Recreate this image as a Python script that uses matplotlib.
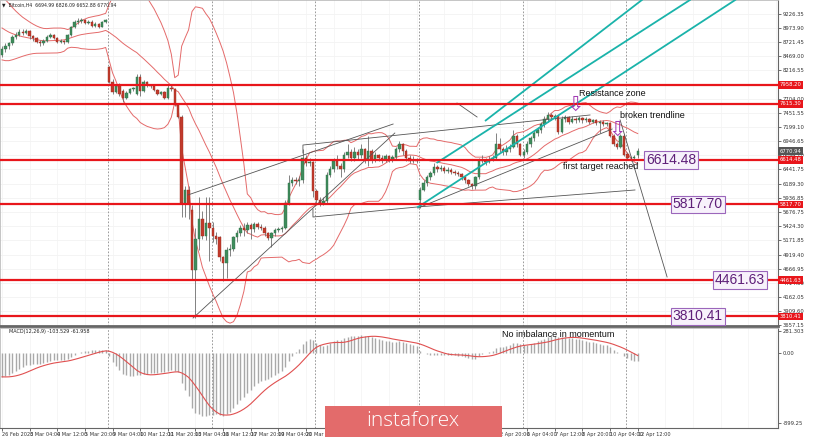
import numpy as np
import pandas as pd
import matplotlib
matplotlib.use("Agg")
import matplotlib.pyplot as plt
import matplotlib.transforms as mtransforms
from matplotlib.patches import Rectangle

# closes before the first visible bar (only used to warm up the indicators)
prior_closes = [10400, 10350, 10300, 10250, 10200, 10150, 10100, 10050, 10000, 9950, 9900, 9850,
                9800, 9750, 9700, 9650, 9600, 9550, 9500, 9450, 9400, 9350, 9300, 9250, 9200, 9150,
                9100, 9050, 9000, 8950, 8900, 8850, 8800, 8750, 8700, 8650, 8580, 8500]

# Bitcoin H4 bars, one week per line
opens = [
    8500, 8600, 8650, 8700, 8820, 8850, 8900, 8880, 8920, 8830, 8790, 8730, 8700, 8740, 8820, 8850, 8800, 8730, 8740, 8720, 8850, 9000, 9080, 9100, 9120, 9060, 9090, 9020, 9040, 9000, 9080,
    8278, 8010, 7830, 7950, 7850, 7720, 7820, 7880, 7800, 8100, 7850, 8000, 7950, 7930, 7860, 7800, 7830, 7720, 7900, 7880, 7600, 7380, 5850, 6080, 5720, 4640, 5200, 5550, 5250, 5480,
    5400, 5250, 5230, 4870, 4760, 5000, 5020, 5230, 5300, 5400, 5350, 5450, 5380, 5470, 5420, 5400, 5300, 5210, 5300, 5350, 5380, 5400, 5850, 6200, 6250, 6230, 6250, 6650, 6550, 6580,
    6050, 5900, 5850, 5880, 6350, 6450, 6600, 6500, 6450, 6700, 6750, 6650, 6750, 6700, 6800, 6620, 6780, 6620, 6700, 6650, 6620, 6680, 6630, 6660, 6800, 6900, 6780, 6650, 6600, 6620,
    5900, 6080, 6200, 6300, 6380, 6480, 6450, 6470, 6420, 6440, 6400, 6380, 6360, 6300, 6250, 6180, 6140, 6300, 6600, 6620, 6580, 6620, 6650, 6900, 6800, 6750, 6800, 6850, 7050, 6900,
    6700, 6750, 6900, 7000, 7100, 7150, 7250, 7350, 7420, 7380, 7400, 7120, 7350, 7380, 7300, 7350, 7330, 7360, 7320, 7340, 7300, 7320, 7280, 7300, 7260, 7280, 7050, 6900, 6850, 7050,
    6720, 6650, 6640, 6694.99]
highs = [
    8650, 8700, 8720, 8850, 8900, 8950, 8960, 8960, 8940, 8850, 8820, 8760, 8770, 8850, 8880, 8870, 8820, 8770, 8760, 8870, 9020, 9120, 9150, 9160, 9140, 9120, 9110, 9080, 9070, 9100, 9140,
    8300, 8060, 7980, 7990, 7880, 7850, 7900, 7920, 8150, 8160, 8050, 8030, 7980, 7950, 7880, 7850, 7850, 7960, 7960, 7900, 7620, 7420, 6150, 6150, 5800, 5400, 5950, 5700, 5950, 5950,
    5500, 5320, 5250, 4900, 5050, 5100, 5250, 5350, 5450, 5480, 5500, 5480, 5500, 5500, 5470, 5430, 5320, 5330, 5400, 5420, 5430, 5900, 6350, 6300, 6300, 6320, 6800, 6700, 6650, 6600,
    6100, 5950, 5950, 6400, 6500, 6650, 6700, 6550, 6750, 6900, 6800, 6850, 6800, 6900, 6820, 7050, 6800, 6750, 6720, 6700, 6720, 6700, 6700, 6850, 6950, 6920, 6800, 6700, 6680, 6650,
    6120, 6250, 6350, 6420, 6550, 6520, 6520, 6500, 6480, 6460, 6440, 6420, 6380, 6320, 6280, 6200, 6320, 6650, 6700, 6650, 6680, 6700, 7100, 7000, 6850, 6880, 6900, 7150, 7080, 6920,
    6800, 6950, 7050, 7150, 7200, 7300, 7400, 7470, 7460, 7440, 7420, 7400, 7420, 7400, 7400, 7380, 7400, 7380, 7380, 7370, 7350, 7340, 7330, 7320, 7300, 7300, 7070, 6930, 7080, 7070,
    6760, 6680, 6700, 6826.09]
lows = [
    8450, 8550, 8600, 8680, 8780, 8830, 8850, 8860, 8780, 8750, 8700, 8650, 8680, 8720, 8800, 8780, 8700, 8700, 8690, 8700, 8830, 8980, 9050, 9070, 9040, 9040, 9000, 9000, 8980, 8990, 9060,
    7990, 7800, 7810, 7750, 7650, 7700, 7800, 7850, 7780, 7750, 7830, 7920, 7900, 7840, 7780, 7780, 7700, 7700, 7850, 7580, 7360, 5600, 5600, 5560, 4480, 3790, 5000, 5200, 5180, 4800,
    5150, 5100, 4800, 4450, 4500, 4900, 4980, 5150, 5250, 5250, 5300, 5200, 5330, 5380, 5350, 5250, 5180, 5050, 5250, 5320, 5330, 5380, 5800, 6150, 6180, 6150, 6200, 6500, 6500, 5950,
    5850, 5780, 5800, 5850, 6300, 6400, 6450, 6300, 6400, 6650, 6600, 6600, 6620, 6650, 6550, 6500, 6550, 6580, 6600, 6560, 6580, 6580, 6580, 6620, 6750, 6700, 6600, 6560, 6560, 6550,
    5760, 6050, 6150, 6250, 6350, 6400, 6420, 6380, 6380, 6360, 6340, 6320, 6260, 6200, 6140, 6100, 6100, 6280, 6550, 6530, 6550, 6600, 6620, 6750, 6700, 6700, 6760, 6820, 6850, 6680,
    6650, 6720, 6850, 6950, 7050, 7100, 7200, 7300, 7330, 7320, 7080, 7100, 7300, 7250, 7280, 7280, 7300, 7280, 7290, 7260, 7270, 7240, 7100, 7220, 7220, 7030, 6870, 6800, 6830, 6680,
    6620, 6600, 6610, 6652.88]
closes = [
    8600, 8650, 8700, 8820, 8850, 8900, 8880, 8920, 8830, 8790, 8730, 8700, 8740, 8820, 8850, 8800, 8730, 8740, 8720, 8850, 9000, 9080, 9100, 9120, 9060, 9090, 9020, 9040, 9000, 9080, 9110,
    8010, 7830, 7950, 7800, 7720, 7820, 7880, 7900, 8100, 7850, 8000, 7950, 7930, 7860, 7800, 7830, 7720, 7900, 7880, 7600, 7380, 5850, 6080, 5830, 4640, 5200, 5550, 5250, 5480, 5400,
    5250, 5200, 4870, 4760, 5000, 5020, 5230, 5300, 5400, 5350, 5450, 5380, 5470, 5420, 5400, 5300, 5210, 5300, 5350, 5380, 5400, 5850, 6200, 6250, 6230, 6260, 6650, 6550, 6580, 6050,
    5900, 5850, 5880, 6350, 6450, 6600, 6500, 6450, 6700, 6750, 6650, 6750, 6700, 6800, 6620, 6780, 6620, 6700, 6650, 6620, 6680, 6630, 6660, 6800, 6900, 6780, 6650, 6600, 6620, 6600,
    6080, 6200, 6300, 6380, 6480, 6450, 6470, 6420, 6440, 6400, 6380, 6360, 6300, 6250, 6180, 6140, 6300, 6600, 6620, 6580, 6620, 6650, 6900, 6800, 6750, 6800, 6850, 7050, 6900, 6700,
    6750, 6900, 7000, 7100, 7150, 7250, 7350, 7420, 7380, 7400, 7120, 7350, 7380, 7300, 7350, 7330, 7360, 7320, 7340, 7300, 7320, 7280, 7300, 7260, 7280, 7050, 6900, 6850, 7050, 6700,
    6650, 6640, 6660, 6770.94]

# horizontal levels drawn on the chart
levels = [7958.20, 7615.30, 6614.48, 5817.70, 4461.63, 3810.41]
# boxed target labels: (bar index, level)
targets = [(193.6, 6614.48), (201.4, 5817.70), (213.6, 4461.63), (201.4, 3810.41)]

# hand drawn lines as (bar index, price) anchors
trendlines = [
    [(53.8, 5985), (113.2, 7256)],
    [(55.3, 3782), (113.7, 7095)],
    [(87.1, 6737), (87.1, 6880), (170.2, 7418)],
    [(90.0, 5733), (90.0, 5591), (120.1, 5770), (183.2, 6075)],
    [(120.4, 5752), (176.6, 7167)],
    [(178.9, 7328), (192.5, 4517)],
    [(131.7, 7632), (137.5, 7382)],
]
channel = [
    [(120.4, 5770), (212.2, 9477)],
    [(126.0, 6568), (199.1, 9477)],
    [(140.0, 7320), (185.2, 9477)],
]

price_ticks = [9226.35, 8973.90, 8721.45, 8469.00, 8216.55, 7704.00, 7451.55, 7199.10, 6946.65,
               6694.20, 6441.75, 6189.30, 5936.85, 5676.75, 5424.30, 5171.85, 4919.40, 4666.95,
               4414.50, 4162.05, 3909.60, 3657.15]
time_labels = ["26 Feb 2020", "3 Mar 04:00", "4 Mar 12:00", "5 Mar 20:00", "9 Mar 04:00",
               "10 Mar 12:00", "11 Mar 20:00", "13 Mar 04:00", "16 Mar 12:00", "17 Mar 20:00",
               "19 Mar 04:00", "20 Mar 12:00", "23 Mar 20:00", "25 Mar 04:00", "26 Mar 12:00",
               "27 Mar 20:00", "31 Mar 04:00", "1 Apr 12:00", "2 Apr 20:00", "6 Apr 04:00",
               "7 Apr 12:00", "8 Apr 20:00", "10 Apr 04:00", "12 Apr 12:00"]
week_starts = [31, 61, 91, 121, 151, 181]

# ---- indicators: Bollinger(20, 2) and MACD(12, 26, 9) ----
allc = pd.Series(prior_closes + closes, dtype=float)
n0 = len(prior_closes)
mid = allc.rolling(20).mean()
sd = allc.rolling(20).std(ddof=0)
upper = (mid + 2 * sd).values[n0:]
lower = (mid - 2 * sd).values[n0:]
mid = mid.values[n0:]
macd = allc.ewm(span=12, adjust=False).mean() - allc.ewm(span=26, adjust=False).mean()
signal = macd.rolling(9).mean().values[n0:]
macd = macd.values[n0:]

o, h, l, c = map(np.array, (opens, highs, lows, closes))
x = np.arange(len(c))
up = c >= o

fig = plt.figure(figsize=(8.25, 4.37), dpi=100)
ax = fig.add_axes([0, 111 / 437, 778 / 825, 326 / 437])
axm = fig.add_axes([0, 9 / 437, 778 / 825, 100 / 437])
xlim = (-0.58, 224.6)

for a in (ax, axm):
    a.set_xlim(*xlim)
    for s in ("left", "top"):
        a.spines[s].set_color("#bbbbbb")
        a.spines[s].set_linewidth(0.6)
    a.spines["right"].set_color("#666666")
    a.spines["right"].set_linewidth(0.8)
    a.spines["bottom"].set_color("#666666")
    for ws in week_starts:
        a.axvline(ws - 0.3, color="#8a8a8a", lw=0.6, ls=(0, (2, 2)), zorder=1)
    a.yaxis.tick_right()
    a.tick_params(axis="y", labelsize=3.8, length=2, width=0.5, pad=1.5, colors="#333333")
ax.spines["bottom"].set_linewidth(2)

# main panel
ax.set_ylim(3639.2, 9477.0)
ax.set_yticks(price_ticks)
ax.set_yticklabels([f"{p:.2f}" for p in price_ticks])
ax.set_xticks([])
for p in price_ticks:
    ax.axhline(p, color="#f0f0f0", lw=0.5, zorder=0)
for t in range(0, 225, 8):
    ax.axvline(t, color="#f3f3f3", lw=0.5, zorder=0)
    axm.axvline(t, color="#f3f3f3", lw=0.5, zorder=0)

band_col = "#e46a6a"
for band in (upper, mid, lower):
    ax.plot(x, band, color=band_col, lw=0.7, zorder=2)

ax.vlines(x, l, h, color="#6e6e6e", lw=0.6, zorder=3)
ax.bar(x[up], (c - o)[up], bottom=o[up], width=0.7, color="#3f8c5c", edgecolor="#2f6f47", lw=0.3, zorder=4)
ax.bar(x[~up], (o - c)[~up], bottom=c[~up], width=0.7, color="#c23a2c", edgecolor="#9c2c20", lw=0.3, zorder=4)

for pts in trendlines:
    px, py = zip(*pts)
    ax.plot(px, py, color="#555555", lw=0.6, zorder=5)
for pts in channel:
    px, py = zip(*pts)
    ax.plot(px, py, color="#1ab3aa", lw=1.3, zorder=5)

for lv in levels:
    ax.axhline(lv, color="#e8161b", lw=1.6, zorder=6)

blend = mtransforms.blended_transform_factory(ax.transAxes, ax.transData)
for lv in levels:
    ax.text(1.002, lv, f"{lv:.2f}", transform=blend, fontsize=3.8, color="white", va="center", ha="left",
            bbox=dict(boxstyle="square,pad=0.25", fc="#e8161b", ec="none"), zorder=8, clip_on=False)
ax.text(1.002, c[-1], f"{c[-1]:.2f}", transform=blend, fontsize=3.8, color="white", va="center", ha="left",
        bbox=dict(boxstyle="square,pad=0.25", fc="#555555", ec="none"), zorder=8, clip_on=False)

for tx, lv in targets:
    ax.text(tx, lv, f"{lv:.2f}", fontsize=10, family="Liberation Sans", color="#5e1f78",
            ha="center", va="center", zorder=9,
            bbox=dict(boxstyle="square,pad=0.12", fc="#f7f1fb", ec="#9b66bb", lw=0.8))

note = dict(fontsize=6.5, family="Liberation Sans", color="#111111", va="center", ha="left", zorder=9)
ax.text(166.9, 7810, "Resistance zone", **note)
ax.text(178.9, 7400, "broken trendline", **note)
ax.text(162.4, 6504, "first target reached", **note)
arrow = dict(fontsize=15, family="DejaVu Sans", color="#a23cb4", ha="center", va="center", zorder=9)
ax.text(165.8, 7600, "\u21e9", **arrow)
ax.text(178.0, 7150, "\u21e9", **arrow)

fig.text(2 / 825, 1 - 5 / 437, "\u25bc  Bitcoin,H4  6694.99 6826.09 6652.88 6770.94", fontsize=3.3,
         color="#222222", va="center", ha="left")

# MACD panel
axm.set_ylim(-959, 320)
axm.set_yticks([281.303, 0, -899.25])
axm.set_yticklabels(["281.303", "0.00", "-899.25"])
axm.vlines(x, 0, macd, color="#a9a9a9", lw=1.0, zorder=2)
axm.plot(x, signal, color="#e05050", lw=0.8, zorder=3)
axm.text(2, 305, "MACD(12,26,9) -103.529 -61.958", fontsize=3.5, color="#222222", va="top", ha="left")
axm.text(144.7, 243, "No imbalance in momentum", fontsize=6.5, family="Liberation Sans",
         color="#111111", va="center", ha="left")
axm.set_xticks(np.arange(0, 8 * len(time_labels), 8))
axm.set_xticklabels(time_labels, ha="left")
axm.tick_params(axis="x", labelsize=3.6, length=2, width=0.5, pad=1, colors="#333333")

# instaforex watermark
fig.patches.append(Rectangle((325 / 825, 0), 177 / 825, 31 / 437, transform=fig.transFigure,
                             fc="#e36b6b", ec="none", zorder=20))
fig.text(413 / 825, 1 - 421 / 437, "instaforex", fontsize=15, family="Open Sans", fontweight="light",
         color="white", ha="center", va="center", zorder=21)

fig.savefig("out.png", dpi=100)
